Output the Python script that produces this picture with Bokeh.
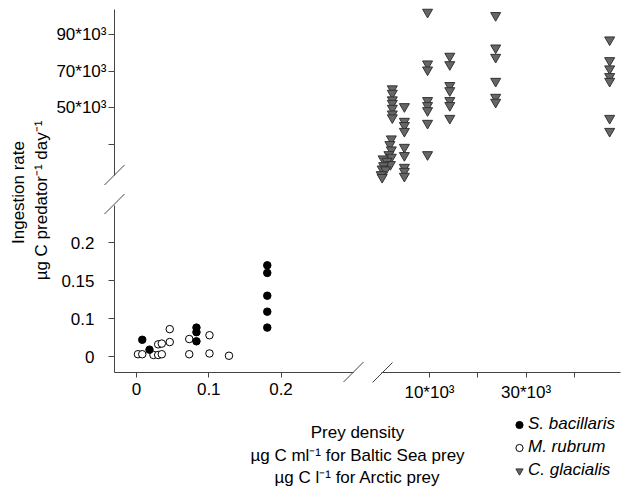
import math
from bokeh.plotting import figure
from bokeh.models import Range1d, LinearAxis, FixedTicker, Legend, LegendItem
from bokeh.core.properties import value
from bokeh.embed import file_html
from bokeh.resources import INLINE

# ---------------- data ----------------
# Baltic Sea prey: density in ug C ml-1, ingestion in ug C predator-1 day-1
# (the lower y axis of the original is drawn with its "0" tick at 0.05)
sb_x = [0.008, 0.018, 0.083, 0.083, 0.083, 0.181, 0.181, 0.181, 0.181, 0.181]
sb_y = [0.072, 0.059, 0.088, 0.082, 0.070, 0.170, 0.160, 0.130, 0.109, 0.088]

mr_x = [0.002, 0.008, 0.0235, 0.030, 0.035, 0.030, 0.035, 0.046, 0.046,
        0.073, 0.073, 0.101, 0.101, 0.128]
mr_y = [0.053, 0.053, 0.052, 0.052, 0.053, 0.066, 0.067, 0.069, 0.086,
        0.073, 0.053, 0.078, 0.054, 0.051]

# Arctic prey: density in ug C l-1
cg_x = [2300, 2300, 2300, 2300, 2300, 2300, 2300,
        2100, 1800, 2100, 1600, 2100, 400, 1200, 1900, 500, 200, 900, 0, 200,
        4800, 4800, 4800, 4800, 4800, 4800, 4800, 4800, 4800,
        9600, 9600, 9600, 9600, 9600, 9600, 9600, 9600,
        14200, 14200, 14200, 14200, 14200, 14200, 14200,
        23700, 23700, 23700, 23700, 23700, 23700,
        47300, 47300, 47300, 47300, 47300, 47300, 47300]
cg_y = [60400, 58000, 54400, 52500, 49800, 46700, 44600,
        33100, 30000, 27100, 24500, 23100, 22200, 20900, 19100, 18500, 16700, 16200, 13600, 12100,
        50700, 42700, 40400, 37200, 28500, 24000, 17600, 15400, 12700,
        102200, 74000, 70700, 54000, 51300, 48500, 41600, 24500,
        78200, 73600, 62200, 59400, 54000, 51300, 44300,
        100400, 82700, 77600, 64500, 55800, 53100,
        87100, 75800, 71300, 67100, 64500, 44300, 37200]

x_low_ticks = [0, 0.1, 0.2]
x_low_labels = ["0", "0.1", "0.2"]
x_high_ticks = [10000, 20000, 30000, 40000]
x_high_labels = ["10*10³", "", "30*10³", ""]
y_low_ticks = [0.05, 0.1, 0.15, 0.2]
y_low_labels = ["0", "0.1", "0.15", "0.2"]
y_high_ticks = [30000, 50000, 70000, 90000]
y_high_labels = ["", "50*10³", "70*10³", "90*10³"]

legend_labels = ["S. bacillaris", "M. rubrum", "C. glacialis"]
x_title = ["Prey density", "µg C ml⁻¹ for Baltic Sea prey", "µg C l⁻¹ for Arctic prey"]
y_title = ["Ingestion rate", "µg C predator⁻¹ day⁻¹"]

# ---------------- layout (pixel geometry of the broken axes) ----------------
W, H = 630, 486
FONT = "Liberation Sans"
AX = "#444444"

def XL(px):  # low x scale
    return (px - 136.0) / 722.5

def YL(py):  # low y scale
    return 0.05 + (356.0 - py) / 760.0

def XH(px):  # high x scale
    return (px - 380.7) * 10000 / 48.3

def YH(py):  # high y scale
    return 90000 + (34.0 - py) * 10000 / 18.33

p = figure(width=W, height=H, output_backend="svg", toolbar_location=None,
           x_axis_location=None, y_axis_location=None,
           x_range=Range1d(XL(0), XL(W)), y_range=Range1d(YL(H), YL(0)),
           min_border=0)
p.min_border_left = p.min_border_right = p.min_border_top = p.min_border_bottom = 0
p.outline_line_color = None
p.title.visible = False
p.grid.visible = False
p.extra_x_ranges = {"xhigh": Range1d(XH(0), XH(W)), "px": Range1d(0, W)}
p.extra_y_ranges = {"yhigh": Range1d(YH(H), YH(0)), "py": Range1d(H, 0)}

Y_AXIS_PX = 114
X_AXIS_PX = 372

def style(ax, tick_out, standoff):
    ax.axis_line_color = AX
    ax.axis_line_width = 1
    ax.major_tick_line_color = AX
    ax.major_tick_out = tick_out
    ax.major_tick_in = 0
    ax.minor_tick_line_color = None
    ax.major_label_text_font = FONT
    ax.major_label_text_font_size = "17px"
    ax.major_label_text_color = "black"
    ax.major_label_standoff = standoff

ax_yh = LinearAxis(y_range_name="yhigh", fixed_location=XL(Y_AXIS_PX),
                   bounds=(YH(175), YH(9)), ticker=FixedTicker(ticks=y_high_ticks),
                   major_label_overrides=dict(zip(y_high_ticks, y_high_labels)))
style(ax_yh, 6, 2)
p.add_layout(ax_yh, "left")

ax_yl = LinearAxis(fixed_location=XL(Y_AXIS_PX),
                   bounds=(YL(X_AXIS_PX), YL(205)), ticker=FixedTicker(ticks=y_low_ticks),
                   major_label_overrides=dict(zip(y_low_ticks, y_low_labels)))
style(ax_yl, 6, 14)
p.add_layout(ax_yl, "left")

ax_xl = LinearAxis(fixed_location=YL(X_AXIS_PX),
                   bounds=(XL(Y_AXIS_PX), XL(353)), ticker=FixedTicker(ticks=x_low_ticks),
                   major_label_overrides=dict(zip(x_low_ticks, x_low_labels)))
style(ax_xl, 5, 5)
p.add_layout(ax_xl, "below")

ax_xh = LinearAxis(x_range_name="xhigh", fixed_location=YL(X_AXIS_PX),
                   bounds=(XH(381), XH(620)), ticker=FixedTicker(ticks=x_high_ticks),
                   major_label_overrides=dict(zip(x_high_ticks, x_high_labels)))
style(ax_xh, 5, 5)
p.add_layout(ax_xh, "below")

# axis-break slashes
breaks = [(114, 174.5), (114, 203.5), (353, 371.5), (382, 372)]
p.segment(x0=[b[0] - 10 for b in breaks], y0=[b[1] + 10 for b in breaks],
          x1=[b[0] + 10 for b in breaks], y1=[b[1] - 10 for b in breaks],
          line_color=AX, line_width=1, x_range_name="px", y_range_name="py")

# data marks
r_cg = p.scatter(cg_x, cg_y, marker="inverted_triangle", size=10,
                 fill_color="#666666", line_color="#333333", line_width=1,
                 x_range_name="xhigh", y_range_name="yhigh")
r_mr = p.scatter(mr_x, mr_y, marker="circle", size=7.5,
                 fill_color="white", line_color="black", line_width=1)
r_sb = p.scatter(sb_x, sb_y, marker="circle", size=7.5,
                 fill_color="black", line_color="black", line_width=1)

# titles
p.text(x=[357, 357, 357], y=[432, 454.5, 477], text=x_title,
       x_range_name="px", y_range_name="py",
       text_align="center", text_baseline="alphabetic",
       text_font=value(FONT), text_font_size="17px", text_color="black")
p.text(x=[18, 40.5], y=[192, 200], text=y_title, angle=math.pi / 2,
       x_range_name="px", y_range_name="py",
       text_align="center", text_baseline="middle",
       text_font=value(FONT), text_font_size="17px", text_color="black")

legend = Legend(items=[LegendItem(label=legend_labels[0], renderers=[r_sb]),
                       LegendItem(label=legend_labels[1], renderers=[r_mr]),
                       LegendItem(label=legend_labels[2], renderers=[r_cg])],
                location=(510, 4.5), orientation="vertical",
                label_text_font=FONT, label_text_font_size="17px",
                label_text_font_style="italic", label_text_color="black",
                glyph_width=18, glyph_height=23, label_height=23, label_standoff=0,
                spacing=0, padding=0, margin=0,
                border_line_color=None, background_fill_alpha=0)
p.add_layout(legend)

open("out.html", "w").write(file_html(p, INLINE))
